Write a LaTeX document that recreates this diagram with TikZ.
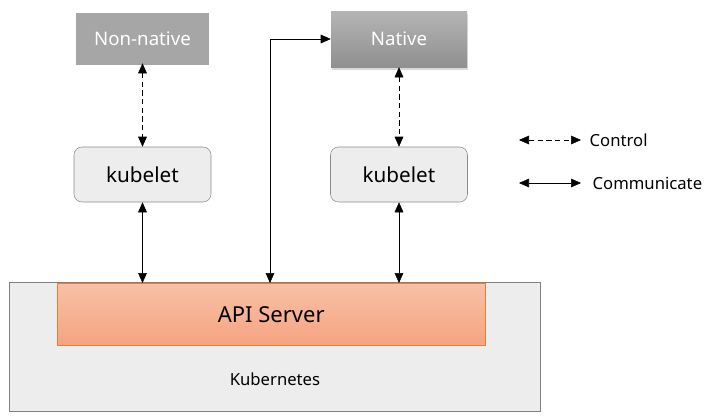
\documentclass[tikz,border=0pt]{standalone}
\usepackage{fontspec}
\setmainfont{Noto Sans}
\usetikzlibrary{arrows.meta,shadows}
\definecolor{boxgray}{HTML}{A6A6A6}
\definecolor{nativetop}{HTML}{B5B5B5}
\definecolor{nativebot}{HTML}{8F8F8F}
\definecolor{kubefill}{HTML}{EDEDED}
\definecolor{kubeline}{HTML}{8C8C8C}
\definecolor{apitop}{HTML}{F8C0A6}
\definecolor{apibot}{HTML}{F5A480}
\definecolor{apiline}{HTML}{ED7D31}
\tikzset{
    runtime/.style={fill=boxgray, text=white, minimum width=100pt, minimum height=39pt, font=\fontsize{14}{17}\selectfont},
    kubelet/.style={draw=kubeline, fill=kubefill, rounded corners=6pt, minimum width=102.75pt, minimum height=41.25pt, font=\fontsize{15.5}{18}\selectfont},
    tip/.style={{Triangle[length=7.5pt,width=6.5pt]}-{Triangle[length=7.5pt,width=6.5pt]}},
    ctrl/.style={dash pattern=on 4pt off 2.5pt},
}
\begin{document}
\begin{tikzpicture}[x=0.75pt, y=-0.75pt]
                \useasboundingbox (0, 0) rectangle (722, 418);
                % cluster
                \node[draw=gray, fill=kubefill, minimum width=398.25pt, minimum height=96.75pt, anchor=north west] (k8s) at (9, 282) {};
                \node[anchor=north west, top color=apitop, bottom color=apibot, draw=apiline, minimum width=321pt, minimum height=46.5pt, font=\fontsize{16.5}{20}\selectfont] (api) at (57, 283) {API Server};
                \node[font=\fontsize{12.5}{15}\selectfont] (k8slabel) at (275, 379) {Kubernetes};
                % runtimes
                \node[runtime] (nonnative) at (142.5, 39) {Non-native};
                \node[runtime, fill=none, top color=nativetop, bottom color=nativebot, minimum width=102pt, minimum height=42pt, drop shadow={opacity=0.3, shadow xshift=1pt, shadow yshift=-2pt}] (native) at (399, 39) {Native};
                % kubelets
                \node[kubelet] (kubeletA) at (142.5, 174.5) {kubelet};
                \node[kubelet] (kubeletB) at (399, 174.5) {kubelet};
                % connectors
                \coordinate (turn) at (270, 39);
                \draw[tip, ctrl] (nonnative.south) ++(0, -2) coordinate (nA) -- (nA |- kubeletA.north);
                \draw[tip, ctrl] (native.south) -- (kubeletB.north);
                \draw[tip] (kubeletA.south) -- (kubeletA.south |- api.north);
                \draw[tip] (kubeletB.south) -- (kubeletB.south |- api.north);
                \draw[tip] (turn |- api.north) -- (turn) -- (native.west);
                % legend
                \coordinate (ctlA) at (519, 140);
                \coordinate (ctlB) at (581, 140);
                \coordinate (comA) at (519, 183);
                \coordinate (comB) at (581, 183);
                \draw[tip, ctrl] (ctlA) -- (ctlB);
                \draw[tip] (comA) -- (comB);
                \node[right, font=\fontsize{12.5}{15}\selectfont] (ctl) at (585, 140) {Control};
                \node[right, font=\fontsize{12.5}{15}\selectfont] (com) at (588, 183) {Communicate};
            \end{tikzpicture}
\end{document}
